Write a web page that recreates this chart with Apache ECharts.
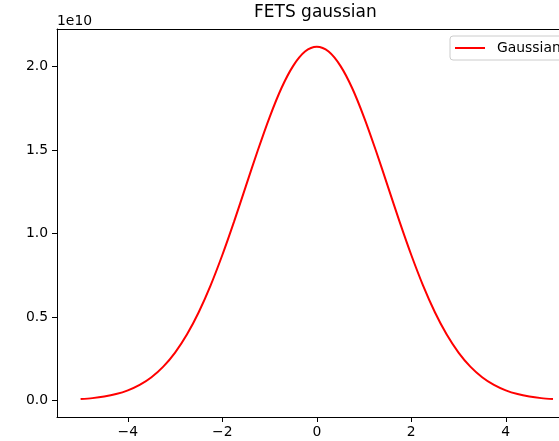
<!DOCTYPE html>
<html>
<head>
<meta charset="utf-8">
<script src="https://cdn.jsdelivr.net/npm/echarts@6/dist/echarts.min.js"></script>
<style>html,body{margin:0;padding:0;background:#fff}#c{width:559px;height:441px}</style>
</head>
<body>
<div id="c"></div>
<script>
// Data (y values in units of 1e10)
const xValues = [-5,-4.75,-4.5,-4.25,-4,-3.75,-3.5,-3.25,-3,-2.75,-2.5,-2.25,-2,-1.75,-1.5,-1.25,-1,-0.75,-0.5,-0.25,0,0.25,0.5,0.75,1,1.25,1.5,1.75,2,2.25,2.5,2.75,3,3.25,3.5,3.75,4,4.25,4.5,4.75,5];
const gaussianValues = [0.0082,0.0141,0.0236,0.0383,0.0606,0.0932,0.1393,0.2027,0.2869,0.3949,0.5287,0.6883,0.8716,1.073,1.286,1.498,1.697,1.871,2.005,2.091,2.12,2.091,2.005,1.871,1.697,1.498,1.286,1.073,0.8716,0.6883,0.5287,0.3949,0.2869,0.2027,0.1393,0.0932,0.0606,0.0383,0.0236,0.0141,0.0082];
const xTicks = [-4,-2,0,2,4];
const yTicks = [0,0.5,1.0,1.5,2.0];
const seriesName = 'Gaussian';
const titleText = 'FETS gaussian';
const offsetText = '1e10';

const font = 'DejaVu Sans';
const xMin = -5.5, xMax = 5.127;
const chart = echarts.init(document.getElementById('c'), null, {renderer:'canvas'});
chart.setOption({
  animation:false,
  backgroundColor:'#fff',
  title:{text:titleText,left:254,top:4,padding:0,textStyle:{fontFamily:font,fontSize:17,fontWeight:'normal',color:'#000'}},
  legend:{
    data:[{name:seriesName,icon:'rect'}],left:450,top:36,
    backgroundColor:'rgba(255,255,255,0.8)',borderColor:'#cccccc',borderWidth:1,borderRadius:3,
    padding:[5,30,5,5],itemWidth:30,itemHeight:2,
    textStyle:{fontFamily:font,fontSize:13.9,color:'#000',padding:[0,0,0,7]}
  },
  grid:{left:57,top:29,width:502,height:388,show:false},
  xAxis:[{
    type:'value',min:xMin,max:xMax,
    axisLine:{show:true,onZero:false,lineStyle:{color:'#000',width:1}},
    axisTick:{show:true,customValues:xTicks,length:5,lineStyle:{color:'#000'}},
    axisLabel:{customValues:xTicks,margin:8,fontFamily:font,fontSize:13.9,color:'#000',
      formatter:v=>String(v).replace('-','\u2212')},
    splitLine:{show:false}
  },{
    type:'value',position:'top',min:xMin,max:xMax,
    axisLine:{show:true,onZero:false,lineStyle:{color:'#000',width:1}},
    axisTick:{show:false},axisLabel:{show:false},splitLine:{show:false}
  }],
  yAxis:{
    type:'value',min:-0.099,max:2.226,
    name:offsetText,nameLocation:'end',nameGap:1,
    nameTextStyle:{fontFamily:font,fontSize:13.9,color:'#000',align:'left',verticalAlign:'bottom'},
    axisLine:{show:true,onZero:false,lineStyle:{color:'#000',width:1}},
    axisTick:{show:true,customValues:yTicks,length:5,lineStyle:{color:'#000'}},
    axisLabel:{customValues:yTicks,margin:9,fontFamily:font,fontSize:13.9,color:'#000',
      formatter:v=>v.toFixed(1)},
    splitLine:{show:false}
  },
  series:[{
    name:seriesName,type:'line',xAxisIndex:0,data:xValues.map((x,i)=>[x,gaussianValues[i]]),
    symbol:'none',smooth:0.3,lineStyle:{color:'#ff0000',width:2},itemStyle:{color:'#ff0000'}
  }]
});
</script>
</body>
</html>
